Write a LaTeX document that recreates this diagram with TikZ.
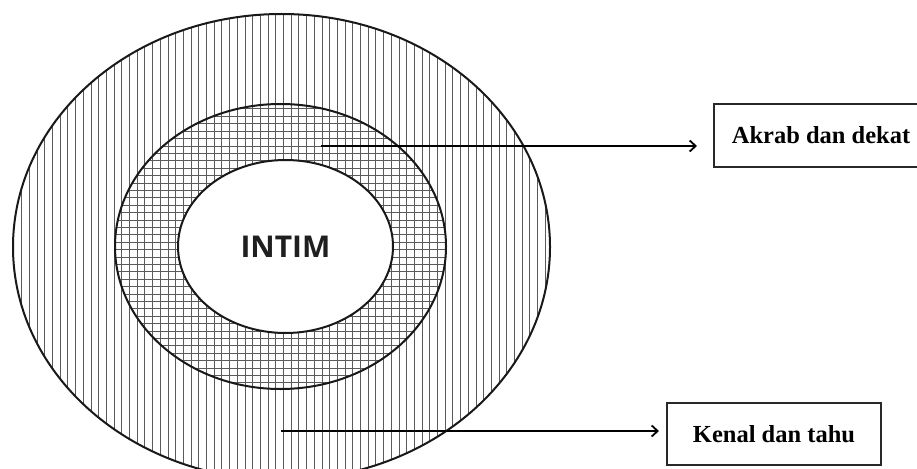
\documentclass[tikz,border=0pt]{standalone}
\usepackage{fontspec}
\setmainfont{Liberation Serif}
\newfontfamily\intimfont{Open Sans}
\usetikzlibrary{arrows.meta,shapes.geometric}
\definecolor{hatchgray}{RGB}{90,90,90}
\definecolor{boxline}{RGB}{40,40,40}
\tikzset{
  ring/.style={ellipse, draw=black!90, line width=2pt, inner sep=0pt},
  hatch/.style={draw=hatchgray, line width=1pt},
  labelbox/.style={rectangle, draw=boxline, line width=2pt, minimum width=214pt,
     minimum height=62pt, inner sep=0pt, font=\bfseries\fontsize{24.5}{28}\selectfont},
  pointer/.style={line width=1.8pt, -{Straight Barb[length=6pt,width=11pt,line width=1.8pt]}}
}
\begin{document}
\begin{tikzpicture}[x=1pt,y=-1pt]
\useasboundingbox (0,0) rectangle (917,468);
\fill[white] (0,0) rectangle (917,468);
% vertical hatching in the outer ellipse
\begin{scope}
  \clip (281.5,247) ellipse [x radius=268.5, y radius=233];
  \foreach \i in {0,...,68} {
    \draw[hatch] ({21.7+7.7*\i},0) -- ({21.7+7.7*\i},480);
  }
\end{scope}
% horizontal hatching in the middle ellipse
\begin{scope}
  \clip (280.5,246.5) ellipse [x radius=165.5, y radius=142.5];
  \foreach \j in {0,...,40} {
    \draw[hatch] (100,{109+7.4*\j}) -- (460,{109+7.4*\j});
  }
\end{scope}
% ellipses
\node[ring, minimum width=537pt, minimum height=466pt] (outer) at (281.5,247) {};
\node[ring, minimum width=331pt, minimum height=285pt] (middle) at (280.5,246.5) {};
\node[ring, fill=white, minimum width=215pt, minimum height=173pt,
      font=\intimfont\bfseries\fontsize{30}{32}\selectfont, text=black!88] (inner) at (285.5,246.5) {INTIM};
% label boxes
\node[labelbox] (akrab) at (821,135.5) {Akrab dan dekat};
\node[labelbox] (kenal) at (774,434) {Kenal dan tahu};
% connectors
\coordinate (a1s) at (321,146);
\coordinate (a1e) at (697,146);
\coordinate (a2s) at (281,431);
\coordinate (a2e) at (659,431);
\draw[pointer] (a1s) -- (a1e);
\draw[pointer] (a2s) -- (a2e);
\end{tikzpicture}
\end{document}
